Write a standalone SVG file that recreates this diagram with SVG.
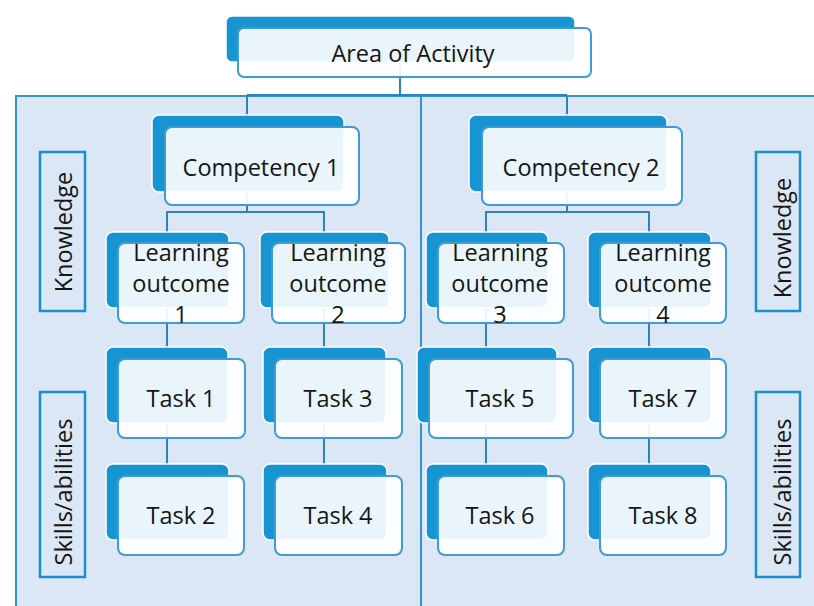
<svg xmlns="http://www.w3.org/2000/svg" width="814" height="606" viewBox="0 0 814 606">
  <style>
    .panel { fill: #dbe7f4; stroke: #3591cf; stroke-width: 2; }
    .divider { stroke: #3591cf; stroke-width: 2; }
    .conn { fill: none; stroke: #2c83bd; stroke-width: 2; }
    .back { fill: #1795d3; stroke: #ffffff; stroke-width: 1.5; }
    .front { fill: #ffffff; fill-opacity: 0.91; stroke: #3f9ad6; stroke-width: 2; }
    .label { fill: none; stroke: #1a8fd0; stroke-width: 2.5; }
    text { font-family: "Open Sans", "Liberation Sans", sans-serif; font-size: 23.5px; fill: #151515; text-anchor: middle; }
  </style>

  <!-- background panel split into two halves -->
  <rect class="panel" x="16" y="96" width="812" height="520"/>
  <line class="divider" x1="421" y1="96" x2="421" y2="606"/>

  <!-- connectors -->
  <g id="connectors">
    <path class="conn" d="M400,50 V95 M247,95 H567 M247,95 V150 M567,95 V150"/>
    <path class="conn" d="M247,160 V212 H167 V270 M247,212 H324 V270"/>
    <path class="conn" d="M567,160 V212 H486 V270 M567,212 H649 V270"/>
    <path class="conn" d="M167,290 V500 M324,290 V500 M486,290 V500 M649,290 V500"/>
  </g>

  <!-- nodes -->
  <g id="area">
    <rect class="back" x="226" y="16" width="349" height="46" rx="6"/>
    <rect class="front" x="238" y="28" width="353" height="49" rx="6"/>
    <text x="413" y="62">Area of Activity</text>
  </g>

  <g id="competency1">
    <rect class="back" x="152" y="115" width="192" height="77" rx="7"/>
    <rect class="front" x="165" y="127" width="194" height="78" rx="7"/>
    <text x="261" y="176">Competency 1</text>
  </g>
  <g id="competency2">
    <rect class="back" x="469" y="115" width="198" height="77" rx="7"/>
    <rect class="front" x="482" y="127" width="200" height="78" rx="7"/>
    <text x="581" y="176">Competency 2</text>
  </g>

  <g id="outcome1">
    <rect class="back" x="106" y="232" width="123" height="76" rx="7"/>
    <rect class="front" x="118" y="243" width="126" height="80" rx="7"/>
    <text x="181" y="261">Learning</text>
    <text x="181" y="292">outcome</text>
    <text x="181" y="323">1</text>
  </g>
  <g id="outcome2">
    <rect class="back" x="260" y="232" width="129" height="76" rx="7"/>
    <rect class="front" x="272" y="243" width="133" height="80" rx="7"/>
    <text x="338" y="261">Learning</text>
    <text x="338" y="292">outcome</text>
    <text x="338" y="323">2</text>
  </g>
  <g id="outcome3">
    <rect class="back" x="426" y="232" width="122" height="76" rx="7"/>
    <rect class="front" x="438" y="243" width="126" height="80" rx="7"/>
    <text x="500" y="261">Learning</text>
    <text x="500" y="292">outcome</text>
    <text x="500" y="323">3</text>
  </g>
  <g id="outcome4">
    <rect class="back" x="588" y="232" width="123" height="76" rx="7"/>
    <rect class="front" x="600" y="243" width="126" height="80" rx="7"/>
    <text x="663" y="261">Learning</text>
    <text x="663" y="292">outcome</text>
    <text x="663" y="323">4</text>
  </g>

  <g id="task1">
    <rect class="back" x="106" y="347" width="122" height="76" rx="7"/>
    <rect class="front" x="118" y="359" width="127" height="79" rx="7"/>
    <text x="181" y="407">Task 1</text>
  </g>
  <g id="task3">
    <rect class="back" x="263" y="347" width="123" height="76" rx="7"/>
    <rect class="front" x="275" y="359" width="127" height="79" rx="7"/>
    <text x="338" y="407">Task 3</text>
  </g>
  <g id="task5">
    <rect class="back" x="417" y="347" width="140" height="76" rx="7"/>
    <rect class="front" x="429" y="359" width="144" height="79" rx="7"/>
    <text x="500" y="407">Task 5</text>
  </g>
  <g id="task7">
    <rect class="back" x="588" y="347" width="123" height="76" rx="7"/>
    <rect class="front" x="600" y="359" width="126" height="79" rx="7"/>
    <text x="663" y="407">Task 7</text>
  </g>

  <g id="task2">
    <rect class="back" x="106" y="464" width="123" height="76" rx="7"/>
    <rect class="front" x="118" y="476" width="126" height="79" rx="7"/>
    <text x="181" y="524">Task 2</text>
  </g>
  <g id="task4">
    <rect class="back" x="263" y="464" width="124" height="76" rx="7"/>
    <rect class="front" x="275" y="476" width="127" height="79" rx="7"/>
    <text x="338" y="524">Task 4</text>
  </g>
  <g id="task6">
    <rect class="back" x="426" y="464" width="122" height="76" rx="7"/>
    <rect class="front" x="438" y="476" width="126" height="79" rx="7"/>
    <text x="500" y="524">Task 6</text>
  </g>
  <g id="task8">
    <rect class="back" x="588" y="464" width="123" height="76" rx="7"/>
    <rect class="front" x="600" y="476" width="126" height="79" rx="7"/>
    <text x="663" y="524">Task 8</text>
  </g>

  <!-- side labels -->
  <g id="knowledge-left">
    <rect class="label" x="40" y="152" width="45" height="159"/>
    <text transform="translate(72,232) rotate(-90)">Knowledge</text>
  </g>
  <g id="skills-left">
    <rect class="label" x="40" y="392" width="45" height="185"/>
    <text transform="translate(72,492) rotate(-90)">Skills/abilities</text>
  </g>
  <g id="knowledge-right">
    <rect class="label" x="756" y="152" width="44" height="159"/>
    <text transform="translate(791,238) rotate(-90)">Knowledge</text>
  </g>
  <g id="skills-right">
    <rect class="label" x="756" y="392" width="44" height="185"/>
    <text transform="translate(791,492) rotate(-90)">Skills/abilities</text>
  </g>
</svg>
